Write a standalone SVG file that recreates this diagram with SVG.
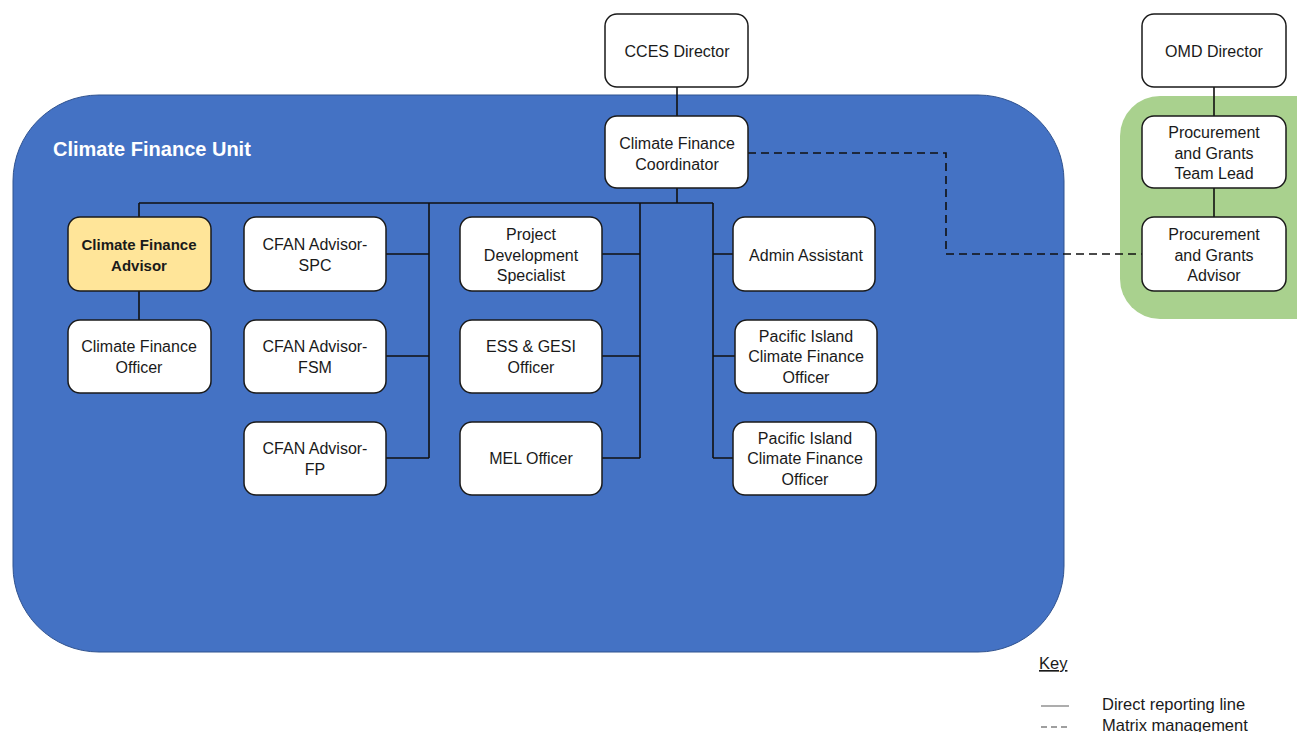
<svg xmlns="http://www.w3.org/2000/svg" width="1297" height="732" viewBox="0 0 1297 732">
<style>
.node rect{fill:#fff;stroke:#1a1a1a;stroke-width:1.5}
.node text{font-family:"Liberation Sans",Arial,sans-serif;font-size:16px;fill:#1a1a1a;text-anchor:middle}
.hl rect{fill:#FFE599}
.hl text{font-weight:bold;font-size:15px}
.conn path{fill:none;stroke:#111;stroke-width:1.6}
.conn .dash{stroke-dasharray:8 5}
.key text{font-family:"Liberation Sans",Arial,sans-serif;font-size:16.5px;fill:#1a1a1a}
</style>
<rect width="1297" height="732" fill="#fff"/>
<g id="cfu-container">
<rect x="13" y="95" width="1051" height="557" rx="86" ry="86" fill="#4472C4" stroke="#2F528F" stroke-width="1"/>
<text x="53" y="156" font-family="Liberation Sans,Arial,sans-serif" font-size="20px" font-weight="bold" fill="#fff">Climate Finance Unit</text>
</g>
<g id="omd-container">
<rect x="1120" y="96" width="220" height="223" rx="40" ry="40" fill="#A9D18E"/>
</g>
<g id="connectors" class="conn">
<path d="M677 87V116"/>
<path d="M677 188V203M139 203H713"/>
<path d="M139 203V217M139 291V320"/>
<path d="M429 203V458M386 254H429M386 356H429M386 458H429"/>
<path d="M640 203V458M602 254H640M602 356H640M602 458H640"/>
<path d="M713 203V458M713 254H733M713 356H735M713 458H733"/>
<path d="M1214 87V116M1214 188V217"/>
<path class="dash" d="M748 153H946V254H1142"/>
</g>
<g id="cces-director" class="node"><rect x="605" y="14" width="143" height="73" rx="12"/><text x="677" y="57">CCES Director</text></g>
<g id="cf-coordinator" class="node"><rect x="605" y="116" width="143" height="72" rx="12"/><text x="677" y="149">Climate Finance</text><text x="677" y="170">Coordinator</text></g>
<g id="omd-director" class="node"><rect x="1142" y="14" width="144" height="73" rx="12"/><text x="1214" y="57">OMD Director</text></g>
<g id="pg-team-lead" class="node"><rect x="1142" y="116" width="144" height="72" rx="12"/><text x="1214" y="138">Procurement</text><text x="1214" y="159">and Grants</text><text x="1214" y="179">Team Lead</text></g>
<g id="pg-advisor" class="node"><rect x="1142" y="217" width="144" height="74" rx="12"/><text x="1214" y="240">Procurement</text><text x="1214" y="261">and Grants</text><text x="1214" y="281">Advisor</text></g>
<g id="cf-advisor" class="node hl"><rect x="68" y="217" width="143" height="74" rx="12"/><text x="139" y="250">Climate Finance</text><text x="139" y="271">Advisor</text></g>
<g id="cf-officer" class="node"><rect x="68" y="320" width="143" height="73" rx="12"/><text x="139" y="352">Climate Finance</text><text x="139" y="373">Officer</text></g>
<g id="cfan-spc" class="node"><rect x="244" y="217" width="142" height="74" rx="12"/><text x="315" y="250">CFAN Advisor-</text><text x="315" y="271">SPC</text></g>
<g id="cfan-fsm" class="node"><rect x="244" y="320" width="142" height="73" rx="12"/><text x="315" y="352">CFAN Advisor-</text><text x="315" y="373">FSM</text></g>
<g id="cfan-fp" class="node"><rect x="244" y="422" width="142" height="73" rx="12"/><text x="315" y="454">CFAN Advisor-</text><text x="315" y="475">FP</text></g>
<g id="project-dev" class="node"><rect x="460" y="217" width="142" height="74" rx="12"/><text x="531" y="240">Project</text><text x="531" y="261">Development</text><text x="531" y="281">Specialist</text></g>
<g id="ess-gesi" class="node"><rect x="460" y="320" width="142" height="73" rx="12"/><text x="531" y="352">ESS &amp; GESI</text><text x="531" y="373">Officer</text></g>
<g id="mel-officer" class="node"><rect x="460" y="422" width="142" height="73" rx="12"/><text x="531" y="464">MEL Officer</text></g>
<g id="admin-assistant" class="node"><rect x="733" y="217" width="142" height="74" rx="12"/><text x="806" y="261">Admin Assistant</text></g>
<g id="pi-cfo-1" class="node"><rect x="735" y="320" width="142" height="73" rx="12"/><text x="806" y="342">Pacific Island</text><text x="806" y="362">Climate Finance</text><text x="806" y="383">Officer</text></g>
<g id="pi-cfo-2" class="node"><rect x="733" y="422" width="143" height="73" rx="12"/><text x="805" y="444">Pacific Island</text><text x="805" y="464">Climate Finance</text><text x="805" y="485">Officer</text></g>
<g id="key" class="key">
<text x="1039" y="669" text-decoration="underline">Key</text>
<line x1="1041" y1="706" x2="1069" y2="706" stroke="#808080" stroke-width="1.3"/>
<line x1="1041" y1="727" x2="1069" y2="727" stroke="#808080" stroke-width="1.3" stroke-dasharray="6 4"/>
<text x="1102" y="710">Direct reporting line</text>
<text x="1102" y="731">Matrix management</text>
</g>
</svg>
